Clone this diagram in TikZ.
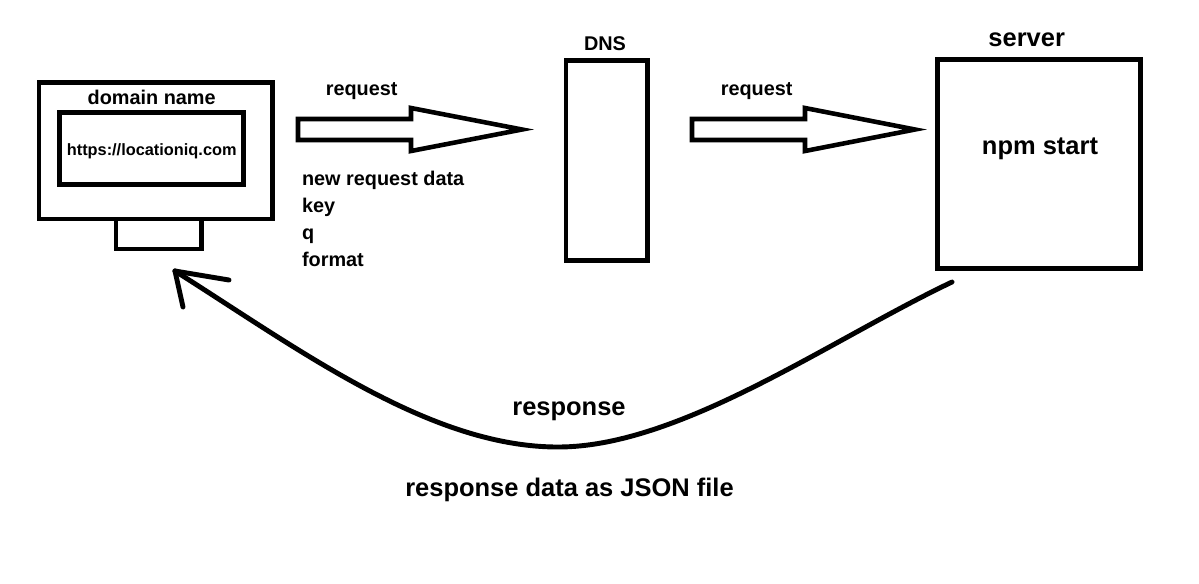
\documentclass[tikz,border=0pt]{standalone}
\usepackage{fontspec}
\setmainfont{Liberation Sans}
\usetikzlibrary{arrows.meta,positioning}

\tikzset{
  frame/.style={draw, line width=2.8pt, inner sep=0pt},
  blockarrow/.style={draw, line width=2.6pt, line join=miter},
  backline/.style={line width=2.8pt, line cap=round},
  lbl/.style={font=\bfseries\fontsize{11.3}{15.5}\selectfont, anchor=base, inner sep=0pt},
  biglbl/.style={font=\bfseries\fontsize{14.5}{17}\selectfont, anchor=base, inner sep=0pt},
}

\begin{document}
\begin{tikzpicture}[x=0.02cm, y=-0.02cm]
      \fill[white] (0,0) rectangle (1199,583);
      \useasboundingbox (0,0) rectangle (1199,583);
      % client: monitor with browser
      \node[frame, minimum width=4.67cm, minimum height=2.73cm] (monitor) at (155.75,150.75) {};
      \node[frame, minimum width=3.69cm, minimum height=1.43cm] (screen) at (151.6,148.3) {};
      \node[frame, minimum width=1.71cm, minimum height=0.6cm] (stand) at (158.7,234) {};
      \node[lbl] (domain) at (151.7,104) {domain name};
      \node[lbl, font=\bfseries\fontsize{9.3}{11}\selectfont] (url) at (151.7,155) {https://locationiq.com};
      % request to dns
      \draw[blockarrow] (298,129.5) -- ++(0,-10.5) -- ++(113,0) -- ++(0,-11) -- ++(111,21.5)
        -- ++(-111,21.5) -- ++(0,-11) -- ++(-113,0) -- cycle;
      \node[lbl] (req1) at (361.7,95) {request};
      \node[lbl, anchor=north west, align=left] (params) at (301.7,170.5)
        {new request data\\key\\q\\format};
      % dns
      \node[frame, minimum width=1.63cm, minimum height=4cm] (dns) at (606.7,160.8) {};
      \node[lbl] (dnslbl) at (605,50) {DNS};
      % request to server
      \draw[blockarrow] (692,129.5) -- ++(0,-10.5) -- ++(113,0) -- ++(0,-11) -- ++(110,21.5)
        -- ++(-110,21.5) -- ++(0,-11) -- ++(-113,0) -- cycle;
      \node[lbl] (req2) at (756.7,95) {request};
      % server
      \node[frame, minimum width=4.06cm, minimum height=4.17cm] (server) at (1039.4,164) {};
      \node[biglbl] (serverlbl) at (1026.7,46.5) {server};
      \node[biglbl] (npm) at (1040,154) {npm start};
      % response back to the client
      \coordinate (back) at (952,282);
      \coordinate (low) at (558,447);
      \coordinate (tip) at (175,271);
      \draw[backline] (back) .. controls (830,340) and (680,447) .. (low)
        .. controls (430,447) and (300,350) .. (tip);
      \draw[backline] (tip) -- ++(54,9);
      \draw[backline] (tip) -- ++(8,36);
      \node[biglbl] (resp) at (569,415) {response};
      \node[biglbl] (respdata) at (569.5,496) {response data as JSON file};
    \end{tikzpicture}
\end{document}
